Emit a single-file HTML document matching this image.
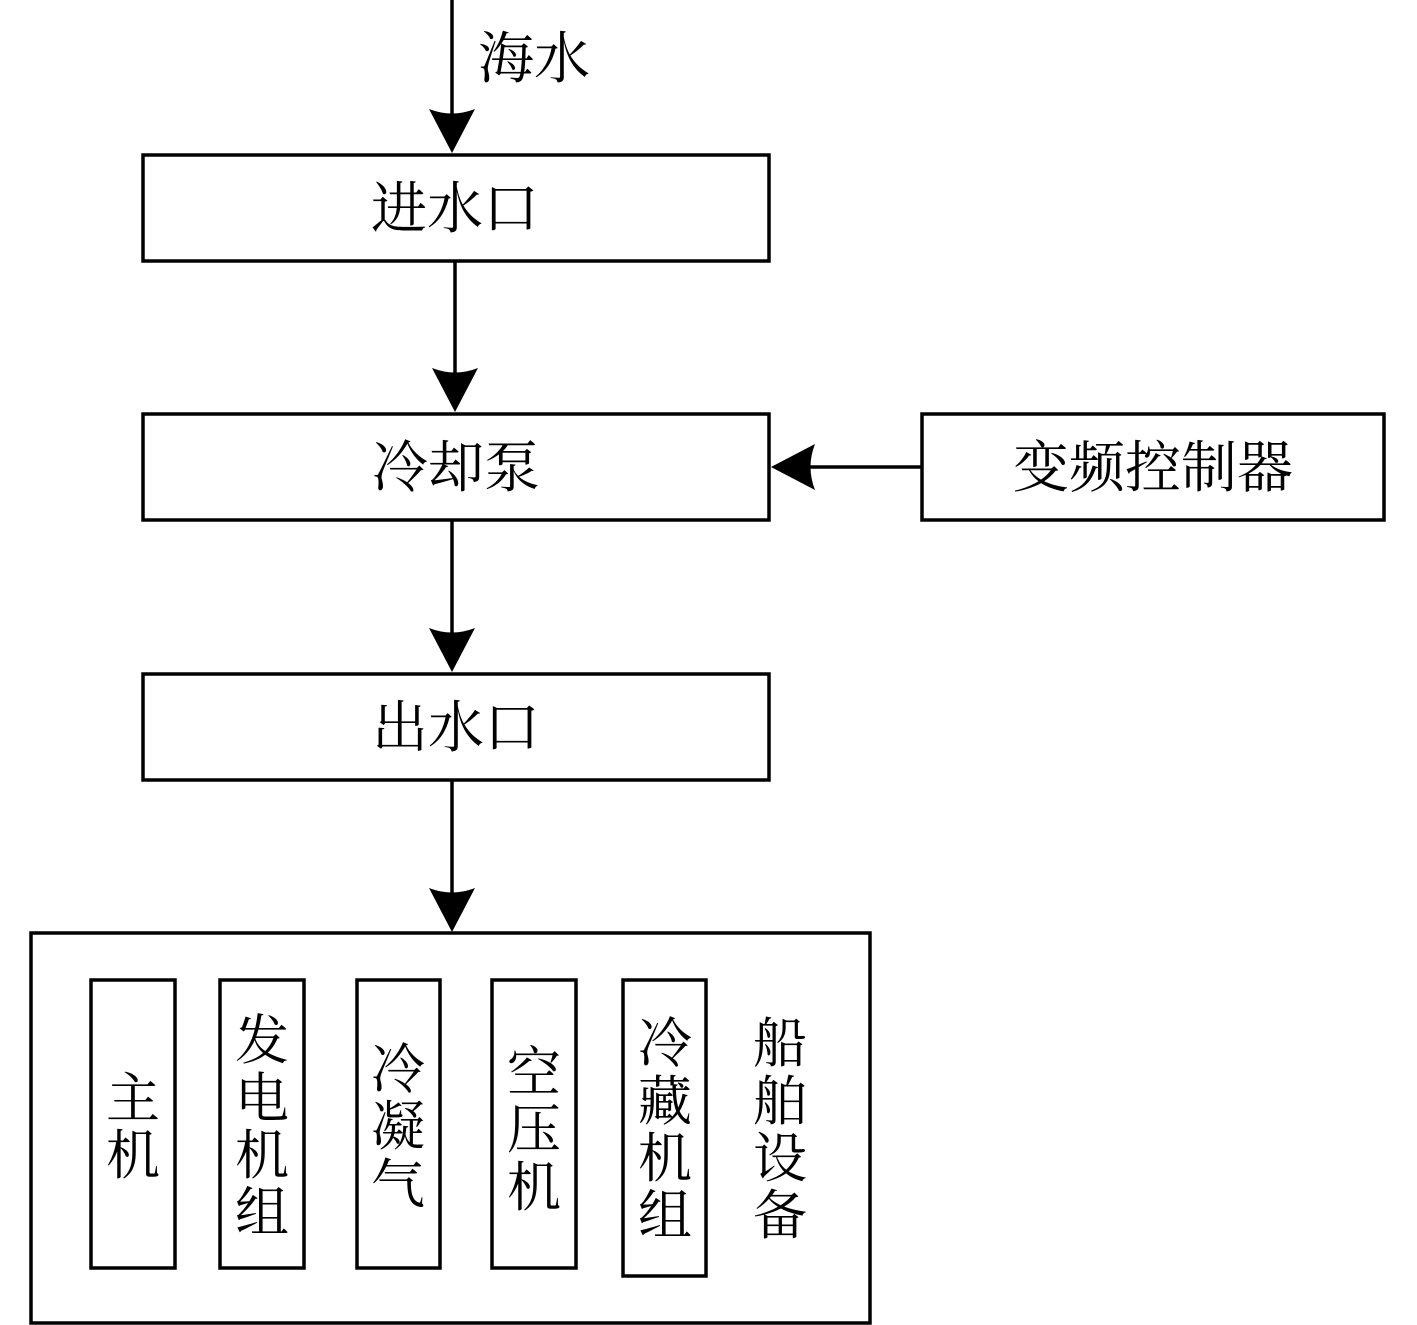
<!DOCTYPE html>
<html><head><meta charset="utf-8"><style>
html,body{margin:0;padding:0;background:#fff;}
svg{display:block;}
text{font-family:"Liberation Serif","Noto Serif CJK SC",serif;fill:#000;}
</style></head><body>
<svg width="1417" height="1325" viewBox="0 0 1417 1325" xmlns="http://www.w3.org/2000/svg">
<g stroke="#000" stroke-width="3.5" fill="none">
<rect x="143" y="155" width="626" height="106"/>
<rect x="143" y="414" width="626" height="106"/>
<rect x="922" y="414" width="462" height="106"/>
<rect x="143" y="674" width="626" height="106"/>
<rect x="31" y="933" width="839" height="390"/>
<rect x="91" y="980" width="84" height="288"/>
<rect x="220" y="980" width="84" height="288"/>
<rect x="357" y="980" width="83" height="288"/>
<rect x="492" y="980" width="84" height="288"/>
<rect x="623" y="980" width="83" height="296"/>
<line x1="452" y1="0" x2="452" y2="120"/>
<line x1="455" y1="262" x2="455" y2="380"/>
<line x1="452" y1="521" x2="452" y2="640"/>
<line x1="452" y1="781" x2="452" y2="900"/>
<line x1="922" y1="467" x2="805" y2="467"/>
</g>
<g fill="#000">
<path d="M429,109 Q452,118 475,109 L452,153 Z"/>
<path d="M432,368 Q455,377 478,368 L455,412 Z"/>
<path d="M429,628 Q452,637 475,628 L452,672 Z"/>
<path d="M429,888 Q452,897 475,888 L452,932 Z"/>
<path d="M815,444 Q806,467 815,490 L771,467 Z"/>
</g>
<g font-size="56">
<text x="478" y="78">海水</text>
<text x="455" y="228" text-anchor="middle">进水口</text>
<text x="456" y="487" text-anchor="middle">冷却泵</text>
<text x="1153" y="487" text-anchor="middle">变频控制器</text>
<text x="456" y="747" text-anchor="middle">出水口</text>
</g>
<g font-size="54" text-anchor="middle">
<text x="133"><tspan x="133" y="1117">主</tspan><tspan x="133" y="1174">机</tspan></text>
<text x="262"><tspan x="262" y="1059">发</tspan><tspan x="262" y="1117">电</tspan><tspan x="262" y="1174">机</tspan><tspan x="262" y="1231">组</tspan></text>
<text x="398"><tspan x="398" y="1088">冷</tspan><tspan x="398" y="1145">凝</tspan><tspan x="398" y="1203">气</tspan></text>
<text x="534"><tspan x="534" y="1091">空</tspan><tspan x="534" y="1148">压</tspan><tspan x="534" y="1206">机</tspan></text>
<text x="665"><tspan x="665" y="1062">冷</tspan><tspan x="665" y="1120">藏</tspan><tspan x="665" y="1177">机</tspan><tspan x="665" y="1234">组</tspan></text>
<text x="780"><tspan x="780" y="1062">船</tspan><tspan x="780" y="1120">舶</tspan><tspan x="780" y="1177">设</tspan><tspan x="780" y="1234">备</tspan></text>
</g>
</svg>
</body></html>
